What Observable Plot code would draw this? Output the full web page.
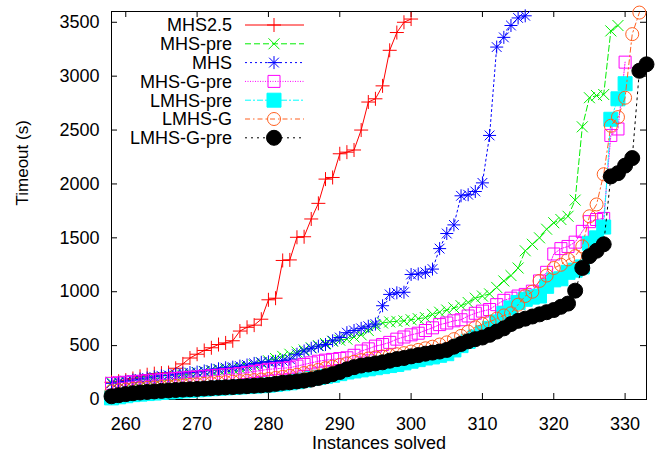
<!DOCTYPE html>
<html><head><meta charset="utf-8">
<script src="https://cdn.jsdelivr.net/npm/d3@7"></script>
<script src="https://cdn.jsdelivr.net/npm/@observablehq/plot@0.6"></script>
<style>body{margin:0;background:#fff;}</style>
</head><body><div id="chart"></div>
<script>
// ---- data ----
const START = 258; // first instance count shown on x axis
const xTicks = [260, 270, 280, 290, 300, 310, 320, 330];
const yTicks = [0, 500, 1000, 1500, 2000, 2500, 3000, 3500];
const seriesNames = ["MHS2.5", "MHS-pre", "MHS", "MHS-G-pre", "LMHS-pre", "LMHS-G", "LMHS-G-pre"];

const mhs25 = [160,170,180,195,215, 230,240,245,250,290, 330,385,420,455,480, 510,525,545,635,670,
  690,745,925,940,1290, 1295,1505,1510,1675,1820, 2045,2060,2280,2295,2315, 2500,2760,2790,2910,3240,
  3405,3500,3530];
const mhsPre = [160,165,170,175,180, 185,195,200,205,215, 225,240,250,260,265, 275,280,285,290,300,
  320,340,360,380,400, 420,440,460,480,500, 520,540,550,560,580, 600,640,680,710,720,
  725,730,740,750,760, 790,810,830,850,870, 900,940,960,980,1040, 1100,1150,1220,1380,1440,
  1500,1580,1640,1670,1700, 1850,2530,2800,2820,2830, 3420,3470];
const mhs = [150,160,170,180,190, 200,210,220,225,235, 245,250,255,265,275, 285,295,300,310,320,
  335,345,350,355,360, 375,420,450,475,495, 510,545,575,620,640, 660,680,700,870,975,
  990,995,1160,1165,1180, 1210,1400,1540,1620,1890, 1900,1930,2010,2450,3270, 3360,3470,3540,3560];
const mhsGPre = [150,155,160,165,170, 175,180,185,190,195, 200,205,210,215,220, 225,230,235,240,250,
  260,270,280,285,290, 295,310,325,340,355, 365,372,380,387,410, 450,470,495,510,530,
  560,580,600,615,640, 665,695,710,730,740, 775,800,820,835,880, 920,940,960,975,1005,
  1100,1180,1350,1400,1420, 1460,1560,1650,1670,1680, 2450,2510,3130];
const lmhsPre = [15,25,35,45,50, 55,60,65,70,75, 80,85,90,95,100, 105,108,112,116,120,
  124,128,133,140,147, 155,165,180,195,205, 215,225,240,255,265, 275,285,295,305,315,
  325,340,355,370,385, 395,410,425,460,500, 540,580,620,660,720, 800,850,900,930,950,
  960,1050,1110,1120,1180, 1200,1230,1450,1500,1600, 2600,2790,2930];
const lmhsG = [75,85,92,98,103, 107,111,115,120,125, 130,135,140,145,150, 155,160,165,170,175,
  180,185,190,200,210, 220,230,245,260,275, 290,305,320,335,350, 365,380,390,400,410,
  420,430,445,460,475, 490,510,530,560,590, 630,670,700,720,750, 780,800,880,960,1000,
  1100,1150,1220,1250,1300, 1330,1420,1700,1810,2090, 2540,2620,2800,3390,3590];
const lmhsGPre = [30,40,50,58,65, 70,75,80,84,88, 92,95,98,102,106, 110,113,116,120,124,
  128,132,136,145,155, 160,168,175,185,200, 215,235,255,280,300, 315,325,335,345,360,
  375,385,400,412,425, 435,445,460,490,515, 540,560,575,600,630, 660,700,730,750,770,
  790,810,830,860,890, 1010,1220,1330,1380,1440, 2070,2100,2170,2240,3050, 3110];

const seriesValues = [mhs25, mhsPre, mhs, mhsGPre, lmhsPre, lmhsG, lmhsGPre];

// ---- symbols (gnuplot-like) ----
const sym = fn => ({draw(ctx, size) { fn(ctx, Math.sqrt(size / Math.PI)); }});
const drawPlus = (c, r) => { c.moveTo(-r, 0); c.lineTo(r, 0); c.moveTo(0, -r); c.lineTo(0, r); };
const drawCross = (c, r) => { c.moveTo(-r, -r); c.lineTo(r, r); c.moveTo(-r, r); c.lineTo(r, -r); };
const drawStar = (c, r) => { drawPlus(c, r); drawCross(c, r * 0.75); };
const drawSquare = (c, r) => { c.rect(-r, -r, 2 * r, 2 * r); };
const drawCircle = (c, r) => { c.moveTo(r, 0); c.arc(0, 0, r, 0, 2 * Math.PI); c.closePath(); };

const styles = [
  {color: "#ff0000", dash: null,        draw: drawPlus,   r: 7,   filled: false},
  {color: "#00ee00", dash: "6,3",       draw: drawCross,  r: 5.5, filled: false},
  {color: "#0000ff", dash: "2,3",       draw: drawStar,   r: 6.5, filled: false},
  {color: "#ff00ff", dash: "1,1.5",     draw: drawSquare, r: 6,   filled: false},
  {color: "#00ffff", dash: "6,2,2,2",   draw: drawSquare, r: 7,   filled: true},
  {color: "#ff6020", dash: "5,3,1.5,3", draw: drawCircle, r: 6.5, filled: false},
  {color: "#000000", dash: "2,4",       draw: drawCircle, r: 7.5, filled: true}
];

const W = 662, H = 457, ML = 111, MR = 16, MT = 11, MB = 58;
const PW = W - ML - MR, PH = H - MT - MB;

const seriesMarks = [];
seriesValues.forEach((vals, i) => {
  const st = styles[i];
  const data = vals.map((v, j) => ({n: START + j, t: v}));
  seriesMarks.push(Plot.line(data, {x: "n", y: "t", stroke: st.color, strokeWidth: 1,
    strokeDasharray: st.dash || undefined}));
  seriesMarks.push(Plot.dot(data, {x: "n", y: "t", symbol: sym(st.draw), r: st.r,
    fill: st.filled ? st.color : "none", stroke: st.color, strokeWidth: 1}));
});

function legendMark(index, scales, values, dims) {
  const g = d3.create("svg:g");
  const x0 = dims.marginLeft, y0 = dims.marginTop;
  seriesNames.forEach((name, i) => {
    const st = styles[i];
    const y = y0 + 14 + i * 18.8;
    g.append("text").attr("x", x0 + 121).attr("y", y).attr("dy", "0.36em")
      .attr("text-anchor", "end").attr("fill", "#000").text(name);
    g.append("line").attr("x1", x0 + 134).attr("x2", x0 + 193).attr("y1", y).attr("y2", y)
      .attr("stroke", st.color).attr("stroke-width", 1)
      .attr("stroke-dasharray", st.dash || null);
    const p = d3.path(); st.draw(p, st.r);
    g.append("path").attr("d", p.toString()).attr("transform", `translate(${x0 + 163},${y})`)
      .attr("fill", st.filled ? st.color : "none").attr("stroke", st.color).attr("stroke-width", 1);
  });
  return g.node();
}

const chart = Plot.plot({
  width: W, height: H,
  marginLeft: ML, marginRight: MR, marginTop: MT, marginBottom: MB,
  style: {fontFamily: "'Liberation Sans', Arial, sans-serif", fontSize: "18px", background: "#fff", color: "#000"},
  x: {domain: [START, 333]},
  y: {domain: [0, 3600]},
  marks: [
    Plot.frame({stroke: "#000", strokeWidth: 1}),
    Plot.tickX(xTicks, {x: d => d, insetTop: PH - 6, stroke: "#000"}),
    Plot.tickX(xTicks, {x: d => d, insetBottom: PH - 6, stroke: "#000"}),
    Plot.tickY(yTicks, {y: d => d, insetRight: PW - 6, stroke: "#000"}),
    Plot.tickY(yTicks, {y: d => d, insetLeft: PW - 6, stroke: "#000"}),
    Plot.axisX({ticks: xTicks, tickSize: 0, tickPadding: 18, tickFormat: d => String(d), label: null}),
    Plot.axisY({ticks: yTicks, tickSize: 0, tickPadding: 12, tickFormat: d => String(d), label: null}),
    Plot.text(["Instances solved"], {text: d => d, frameAnchor: "bottom", dy: 49, fontSize: 18}),
    Plot.text(["Timeout (s)"], {text: d => d, frameAnchor: "left", dx: -89, rotate: -90, fontSize: 17}),
    legendMark,
    ...seriesMarks
  ]
});
document.getElementById("chart").appendChild(chart);
</script>
</body></html>
